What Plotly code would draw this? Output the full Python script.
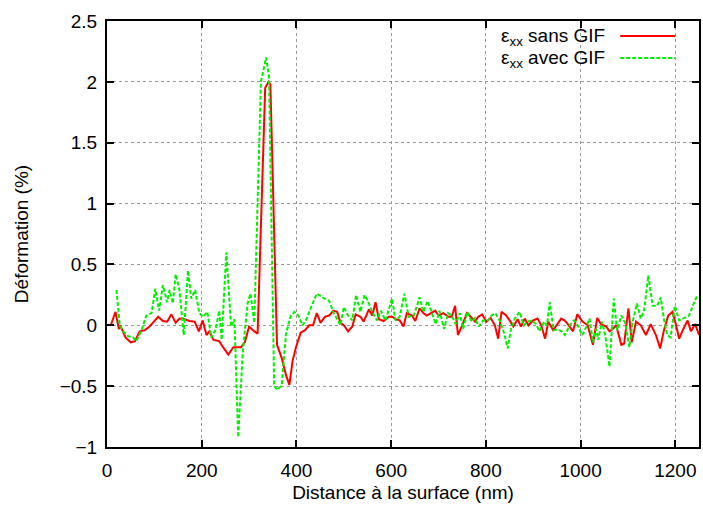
import plotly.graph_objects as go

# ---- data: ε_xx sans GIF (red) ----
x_sans = [8, 18, 25, 29, 39, 50, 59, 69, 80, 90, 99, 108, 118, 127, 136, 145, 153, 164, 174, 185,
          194, 202, 210, 216, 225, 237, 245, 256, 267, 275, 283, 291, 300, 311, 318, 334, 341, 345,
          359, 369, 378, 385, 392, 399, 409, 418, 427, 435, 443, 451, 460, 469, 478, 486, 493, 500,
          509, 518, 525, 535, 542, 553, 560, 567, 574, 584, 595, 602, 610, 618, 626, 633, 644, 651,
          660, 668, 675, 684, 693, 700, 710, 721, 728, 735, 741, 750, 760, 768, 777, 784, 792, 801,
          810, 819, 826, 833, 843, 850, 858, 867, 874, 882, 890, 900, 909, 917, 925, 932, 942, 951,
          959, 966, 973, 984, 993, 1004, 1015, 1026, 1035, 1043, 1054, 1061, 1068, 1075, 1086, 1092,
          1101, 1108, 1117, 1127, 1138, 1148, 1159, 1168, 1176, 1185, 1194, 1201, 1208, 1217, 1226,
          1233, 1242, 1250]
y_sans = [0.0, 0.11, -0.03, -0.01, -0.10, -0.14, -0.13, -0.05, -0.04, -0.01, 0.03, 0.07, 0.035, 0.03,
          0.09, 0.02, 0.055, 0.05, 0.035, 0.03, -0.05, 0.04, -0.08, -0.05, -0.12, -0.13, -0.18, -0.24,
          -0.18, -0.18, -0.18, -0.14, -0.01, -0.05, -0.07, 1.95, 2.0, 1.98, -0.16, -0.27, -0.41, -0.49,
          -0.29, -0.18, -0.06, -0.04, 0.0, 0.0, 0.10, 0.02, 0.07, 0.08, 0.12, 0.11, 0.02, 0.0, -0.05,
          -0.01, 0.09, 0.07, 0.03, 0.13, 0.08, 0.19, 0.05, 0.035, 0.07, 0.07, 0.05, 0.04, -0.01, 0.10,
          0.08, 0.035, 0.14, 0.10, 0.08, 0.10, 0.12, 0.08, 0.10, 0.07, 0.07, 0.16, -0.08, 0.0, 0.10,
          0.07, 0.03, 0.07, 0.09, 0.03, 0.06, 0.0, -0.11, 0.11, 0.08, 0.04, -0.01, 0.05, -0.01, 0.055,
          0.0, 0.04, 0.055, 0.0, -0.11, 0.03, -0.04, 0.01, 0.055, 0.04, 0.01, -0.05, 0.09, 0.03, 0.0,
          -0.16, 0.06, 0.01, -0.01, -0.05, -0.03, 0.0, -0.16, -0.15, 0.14, -0.14, 0.03, 0.0, -0.08, 0.01,
          -0.08, -0.19, -0.04, 0.08, 0.11, 0.01, -0.11, -0.03, 0.04, -0.05, 0.01, -0.08]

# ---- data: ε_xx avec GIF (green) ----
x_avec = [20, 27, 34, 45, 55, 62, 73, 83, 94, 102, 110, 118, 127, 132, 139, 145, 153, 162, 171, 178,
          186, 195, 203, 212, 220, 229, 237, 242, 252, 262, 269, 277, 287, 297, 303, 311, 325, 329, 336,
          342, 353, 360, 369, 378, 388, 396, 404, 413, 422, 431, 443, 455, 469, 479, 493, 500, 509, 518,
          526, 535, 544, 553, 560, 570, 578, 588, 602, 609, 618, 628, 637, 648, 660, 668, 677, 686, 694,
          702, 712, 720, 728, 736, 745, 752, 761, 770, 777, 785, 794, 805, 812, 820, 829, 839, 846, 853,
          861, 871, 880, 888, 897, 906, 913, 923, 929, 935, 943, 951, 960, 967, 977, 986, 994, 1003,
          1008, 1019, 1026, 1033, 1037, 1045, 1052, 1061, 1070, 1077, 1086, 1094, 1103, 1110, 1119,
          1127, 1134, 1143, 1152, 1162, 1169, 1176, 1183, 1190, 1199, 1208, 1218, 1229, 1239, 1247]
y_avec = [0.29, 0.0, -0.05, -0.09, -0.10, -0.13, -0.04, 0.08, 0.10, 0.30, 0.12, 0.33, 0.19, 0.29, 0.18,
          0.42, 0.29, -0.08, 0.45, 0.22, 0.29, 0.10, 0.07, 0.11, -0.10, -0.04, 0.12, -0.12, 0.60, -0.01,
          0.05, -0.92, -0.20, 0.18, 0.26, 0.02, 2.0, 2.08, 2.2, 2.05, -0.50, -0.53, -0.49, -0.07, 0.08,
          0.11, 0.08, 0.0, 0.055, 0.15, 0.26, 0.23, 0.20, 0.10, 0.0, 0.15, 0.08, 0.04, 0.25, 0.11, 0.25,
          0.18, 0.11, 0.04, 0.12, 0.04, 0.22, 0.04, 0.07, 0.26, 0.07, 0.08, 0.23, 0.11, 0.20, 0.10, 0.01,
          0.12, -0.03, 0.10, 0.08, 0.01, 0.10, -0.03, 0.11, 0.03, 0.06, -0.01, 0.04, 0.04, 0.08, 0.10,
          0.04, -0.07, -0.19, -0.03, 0.055, 0.11, 0.0, 0.03, 0.04, 0.01, -0.05, 0.03, 0.0, 0.19, -0.04,
          -0.035, -0.05, -0.08, 0.0, 0.04, 0.0, -0.08, -0.05, 0.055, -0.14, -0.03, -0.12, 0.03, -0.08,
          -0.34, 0.22, -0.04, 0.08, 0.02, -0.18, 0.03, 0.18, 0.055, 0.12, 0.41, 0.16, 0.16, 0.23, 0.05,
          -0.08, -0.10, 0.16, 0.04, 0.06, 0.08, 0.18, 0.25]

x_ticks = [0, 200, 400, 600, 800, 1000, 1200]
y_ticks = [-1, -0.5, 0, 0.5, 1, 1.5, 2, 2.5]
y_tick_text = ["\u22121", "\u22120.5", "0", "0.5", "1", "1.5", "2", "2.5"]

RED = "#ff0000"
GREEN = "#00f000"
FONT = "Liberation Sans, Arial, sans-serif"

fig = go.Figure()
fig.add_trace(go.Scatter(x=x_sans, y=y_sans, mode="lines", name="sans GIF",
                         line=dict(color=RED, width=2), showlegend=False))
fig.add_trace(go.Scatter(x=x_avec, y=y_avec, mode="lines", name="avec GIF",
                         line=dict(color=GREEN, width=2, dash="4px,2px"), showlegend=False))

axis_common = dict(showline=True, linecolor="black", linewidth=2, mirror="ticks",
                   ticks="inside", ticklen=7, tickwidth=1.5, tickcolor="black",
                   showgrid=True, gridcolor="#999999", griddash="dot", gridwidth=1,
                   zeroline=False, tickfont=dict(family=FONT, size=19, color="black"))

fig.update_xaxes(range=[0, 1250], tickvals=x_ticks, ticklabelstandoff=5,
                 title=dict(text="Distance à la surface (nm)", font=dict(family=FONT, size=19, color="black"),
                            standoff=6),
                 **axis_common)
fig.update_yaxes(range=[-1, 2.5], tickvals=y_ticks, ticktext=y_tick_text, ticklabelstandoff=4,
                 title=dict(text="Déformation (%)", font=dict(family=FONT, size=19, color="black"),
                            standoff=26),
                 **axis_common)

# custom legend (text on left, line sample on right, as in gnuplot)
fig.add_shape(type="rect", xref="paper", yref="paper", x0=0.64, x1=0.995, y0=0.885, y1=0.995,
              fillcolor="white", line=dict(width=0), layer="between")
fig.add_annotation(xref="paper", yref="paper", x=0.845, y=0.963, xanchor="right", yanchor="middle",
                   text="ε<sub>xx</sub> sans GIF", showarrow=False,
                   font=dict(family=FONT, size=19, color="black"))
fig.add_annotation(xref="paper", yref="paper", x=0.845, y=0.911, xanchor="right", yanchor="middle",
                   text="ε<sub>xx</sub> avec GIF", showarrow=False,
                   font=dict(family=FONT, size=19, color="black"))
fig.add_shape(type="line", xref="paper", yref="paper", x0=0.867, x1=0.96, y0=0.965, y1=0.965,
              line=dict(color=RED, width=2))
fig.add_shape(type="line", xref="paper", yref="paper", x0=0.867, x1=0.96, y0=0.913, y1=0.913,
              line=dict(color=GREEN, width=2, dash="4px,2px"))

fig.update_layout(width=703, height=509, margin=dict(l=107, r=2, t=21, b=62),
                  paper_bgcolor="white", plot_bgcolor="white",
                  font=dict(family=FONT, size=19, color="black"))

fig.write_html("out.html", config={"displayModeBar": False},
               post_script="document.body.style.margin='0px';")
